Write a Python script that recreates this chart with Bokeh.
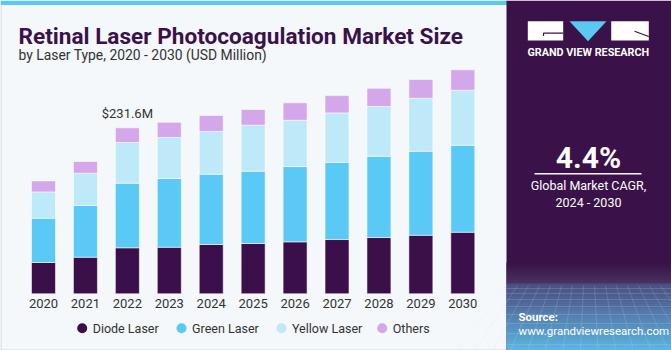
import numpy as np
from bokeh.plotting import figure
from bokeh.models import Range1d, ColumnDataSource
from bokeh.core.properties import value
from bokeh.embed import file_html
from bokeh.resources import INLINE

# ---------------- data ----------------
years = ["2020", "2021", "2022", "2023", "2024", "2025", "2026", "2027", "2028", "2029", "2030"]
series = ["Diode Laser", "Green Laser", "Yellow Laser", "Others"]
diode = [43.7, 51.1, 64.2, 65.0, 68.8, 70.2, 72.5, 75.7, 78.5, 81.7, 85.9]
green = [61.8, 72.1, 90.1, 95.8, 98.1, 100.9, 105.0, 107.8, 113.4, 117.2, 121.4]
yellow = [36.7, 45.1, 56.8, 57.2, 59.6, 64.2, 64.6, 68.9, 69.3, 73.9, 76.7]
others = [15.3, 16.3, 20.5, 21.3, 22.3, 21.9, 24.3, 24.1, 25.5, 26.1, 28.5]
colors = ["#3a0f4a", "#5bc9f5", "#bde9f9", "#d4a7eb"]
annot_year = "2022"
annot_text = "$231.6M"
cagr = "4.4%"
cagr_label = ["Global Market CAGR,", "2024 - 2030"]

TITLE_C = "#3a1249"
PANEL_C = "#3a1249"
FONT = "Roboto"

W, H = 671, 350
p = figure(width=W, height=H, output_backend="svg", toolbar_location=None,
           x_range=Range1d(-1.0255, 14.977), y_range=Range1d(-79.1, 409.2),
           x_axis_location=None, y_axis_location=None, min_border=0,
           background_fill_color="#f4f8fb", border_fill_color="#f4f8fb",
           outline_line_color=None)
p.grid.visible = False
p.extra_x_ranges = {"px": Range1d(0, W)}
p.extra_y_ranges = {"px": Range1d(H, 0)}
PX = dict(x_range_name="px", y_range_name="px")

# top stripe
p.quad(left=[0], right=[507], top=[0], bottom=[4.5], color="#5bc8f0", line_color=None, **PX)
# left border
p.line(x=[0.5, 0.5, 507], y=[4, 349.5, 349.5], line_color="#cfd3d6", line_width=1, **PX)

# ---------------- bars ----------------
src = ColumnDataSource(dict(x=list(range(len(years))), years=years,
                            **{s: v for s, v in zip(series, [diode, green, yellow, others])}))
p.vbar_stack(series, x="x", width=0.572, color=colors, source=src,
             line_color="#ffffff", line_width=1, line_alpha=0.55)

# year labels
p.text(x=list(range(len(years))), y=[302.7] * len(years), text=years, y_range_name="px",
       text_font=value(FONT), text_font_size="13px", text_color="#333333",
       text_align="center", text_baseline="middle")

# annotation
ai = years.index(annot_year)
tot = diode[ai] + green[ai] + yellow[ai] + others[ai]
p.text(x=[ai], y=[tot], text=[annot_text], y_offset=-14, text_font=value(FONT),
       text_font_size="13px", text_color="#333333", text_align="center", text_baseline="middle")

# title
p.text(x=[18], y=[36], text=["Retinal Laser Photocoagulation Market Size"], text_font=value(FONT),
       text_font_size="22.6px", text_font_style="bold", text_color=TITLE_C,
       text_align="left", text_baseline="alphabetic", **PX)
p.text(x=[18], y=[54], text=["by Laser Type, 2020 - 2030 (USD Million)"], text_font=value(FONT),
       text_font_size="13.9px", text_color="#333333",
       text_align="left", text_baseline="alphabetic", **PX)

# legend
leg_x = [81.7, 181, 281, 381.7]
p.scatter(x=leg_x, y=[327.7] * 4, size=10, color=colors, line_color=None, **PX)
p.text(x=[v + 10.5 for v in leg_x], y=[327.7] * 4, text=series, text_font=value(FONT),
       text_font_size="12.5px", text_color="#333333", text_align="left",
       text_baseline="middle", **PX)

# ---------------- right panel ----------------
p.quad(left=[506], right=[671], top=[0], bottom=[350], color=PANEL_C, line_color=None, **PX)


def mix(c1, c2, t):
    a = [int(c1[i:i + 2], 16) for i in (1, 3, 5)]
    b = [int(c2[i:i + 2], 16) for i in (1, 3, 5)]
    return "#%02x%02x%02x" % tuple(round(a[k] + (b[k] - a[k]) * t) for k in range(3))


tops, bots, cols = [], [], []
n1 = 10
for i in range(n1):
    y0 = 262 + i * 21 / n1
    tops.append(y0); bots.append(y0 + 21 / n1 + 0.5)
    cols.append(mix(PANEL_C, "#47325f", i / (n1 - 1)))
n2 = 34
for i in range(n2):
    y0 = 283 + i * 67 / n2
    tops.append(y0); bots.append(y0 + 67 / n2 + 0.5)
    cols.append(mix("#4b4f80", "#5cb4e2", i / (n2 - 1)))
p.quad(left=[506] * len(tops), right=[671] * len(tops), top=tops, bottom=bots,
       color=cols, line_color=None, **PX)
# faint mesh lines
gx = np.linspace(506, 671, 16)
p.multi_line(xs=[[x, x + (x - 588) * 0.6] for x in gx], ys=[[285, 350]] * len(gx),
             line_color="#cfe6f7", line_alpha=0.18, line_width=1, **PX)
gy = [288, 293, 299, 306, 314, 323, 333, 344]
p.multi_line(xs=[[506, 671]] * len(gy), ys=[[y, y] for y in gy],
             line_color="#cfe6f7", line_alpha=0.18, line_width=1, **PX)

# logo
p.quad(left=[527.3, 610.7], right=[562.7, 648.3], top=[20.7, 20.7], bottom=[40, 40],
       color="#ffffff", line_color=None, **PX)
p.patch(x=[569, 606, 587.5], y=[20.7, 20.7, 40.7], color="#5bc8f0", line_color=None, **PX)
p.multi_line(xs=[[543, 543, 562.7], [634, 648.3]], ys=[[35.5, 32.7, 32.7], [30.7, 36]],
             line_color=PANEL_C, line_width=1.2, **PX)
p.text(x=[587.8], y=[51.7], text=["GRAND VIEW RESEARCH"], text_font=value(FONT),
       text_font_size="10.8px", text_font_style="bold", text_color="#ffffff",
       text_align="center", text_baseline="middle", **PX)

# CAGR
p.text(x=[588], y=[156.5], text=[cagr], text_font=value(FONT), text_font_size="30px",
       text_font_style="bold", text_color="#ffffff", text_align="center",
       text_baseline="middle", **PX)
p.line(x=[534, 641], y=[173.3, 173.3], line_color="#ffffff", line_width=1.5, **PX)
p.text(x=[588, 588], y=[185, 201.7], text=cagr_label, text_font=value(FONT),
       text_font_size="12.5px", text_color="#ffffff", text_align="center",
       text_baseline="middle", **PX)

# source
p.text(x=[518], y=[316], text=["Source:"], text_font=value(FONT), text_font_size="11.5px",
       text_font_style="bold", text_color="#ffffff", text_align="left",
       text_baseline="middle", **PX)
p.text(x=[518], y=[330], text=["www.grandviewresearch.com"], text_font=value(FONT),
       text_font_size="11.5px", text_color="#ffffff", text_align="left",
       text_baseline="middle", **PX)

open("out.html", "w").write(file_html(p, INLINE))
